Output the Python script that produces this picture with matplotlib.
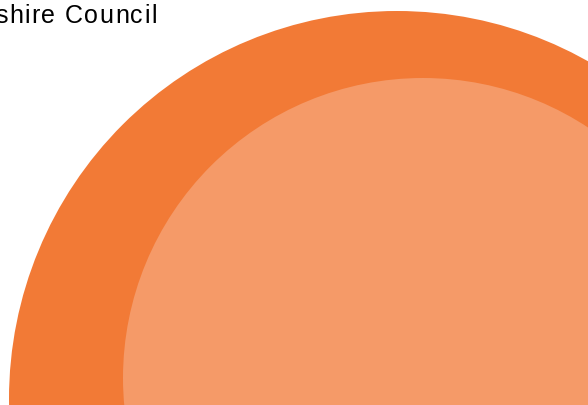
import matplotlib
matplotlib.use("Agg")
import matplotlib.pyplot as plt
from matplotlib.patches import Circle
from matplotlib.font_manager import FontProperties, findfont
from matplotlib.ft2font import FT2Font

# text fragment at top left (title cut off by the slide edge)
title_text = "shire Council"

# circles: centre x, centre y (pixels from top-left), radius
circle_names = ["outer", "inner"]
circle_cx = [397, 423]
circle_cy = [400, 379]
circle_r = [388, 300]
circle_colors = ["#F27A36", "#F59A68"]

W, H = 588, 406
fig = plt.figure(figsize=(W / 100, H / 100), dpi=100)
ax = fig.add_axes([0, 0, 1, 1])
ax.set_xlim(0, W)
ax.set_ylim(H, 0)
ax.set_aspect("equal")
ax.axis("off")

for name, cx, cy, r, col in zip(circle_names, circle_cx, circle_cy, circle_r, circle_colors):
    ax.add_patch(Circle((cx, cy), r, facecolor=col, edgecolor="none"))

# the title is set with a little letter spacing, so place it char by char
fsize = 18.0
spacing = 1.4
fp = FontProperties(family="Liberation Sans", size=fsize)
ft = FT2Font(findfont(fp))
ft.set_size(fsize, 100)
x = -4.5
for ch in title_text:
    ax.text(x, 22.7, ch, ha="left", va="baseline", fontproperties=fp, color="black")
    x += ft.load_char(ord(ch)).linearHoriAdvance / 65536 + spacing

fig.savefig("out.png", dpi=100)
